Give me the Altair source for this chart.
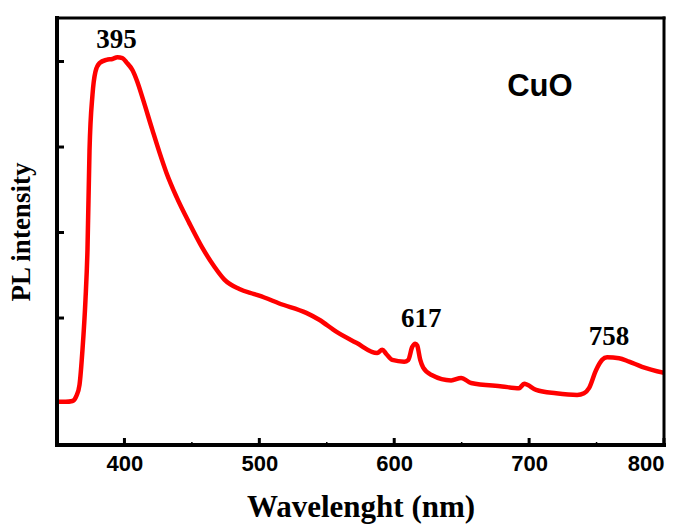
import altair as alt
import pandas as pd

# Spectrum (wavelength nm, relative PL intensity)
wavelength = [350, 356.3, 361.5, 364.4, 366.7, 368.9, 371.1, 372.6, 374.1, 376.3, 378.5, 381.5,
              386.7, 391.1, 394.8, 398.5, 401.5, 405.9, 409.6, 413.3, 420.7, 425.9, 431.1, 438.5,
              448.1, 457.8, 466.7, 474.1, 485.2, 496.3, 503.7, 514.8, 534.8, 544.4, 557.0, 571.9,
              587.4, 591.1, 594.1, 598.5, 607.4, 610.4, 613.3, 615.6, 617.0, 619.3, 621.5, 628.1,
              642.2, 649.6, 657.0, 680.0, 692.6, 696.3, 705.2, 720.0, 735.6, 740.7, 744.4, 749.6,
              754.1, 757.8, 766.7, 774.1, 783.7, 800]
intensity = [0.02, 0.02, 0.03, 0.09, 0.22, 0.63, 1.21, 1.80, 2.96, 3.61, 3.88, 3.98,
             4.02, 4.03, 4.05, 4.04, 3.99, 3.90, 3.76, 3.58, 3.20, 2.94, 2.70, 2.42,
             2.11, 1.82, 1.60, 1.45, 1.34, 1.28, 1.24, 1.17, 1.06, 0.98, 0.84, 0.71,
             0.59, 0.63, 0.58, 0.51, 0.49, 0.51, 0.66, 0.70, 0.68, 0.51, 0.42, 0.33,
             0.27, 0.30, 0.24, 0.20, 0.18, 0.23, 0.16, 0.12, 0.10, 0.12, 0.18, 0.39,
             0.51, 0.54, 0.53, 0.49, 0.43, 0.36]

x_major = [400, 500, 600, 700, 800]
x_minor = [450, 550, 650, 750]
y_major = [1, 2, 3, 4]

peak_text = ["395", "617", "758"]
peak_x = [394.1, 620.0, 759.3]
peak_y = [4.25, 0.99, 0.78]

sample_text = ["CuO"]
sample_x = [708.0]
sample_y = [3.70]

W, H = 607, 427
xs = alt.Scale(domain=[350, 800], nice=False, zero=False)
ys = alt.Scale(domain=[-0.485, 4.509], nice=False, zero=False)

df = pd.DataFrame({"wl": wavelength, "pl": intensity})

line = alt.Chart(df).mark_line(color="#ff0000", strokeWidth=4.5, interpolate="monotone", clip=True).encode(
    x=alt.X("wl:Q", scale=xs,
            axis=alt.Axis(title="Wavelenght (nm)", values=x_major, ticks=False, domain=False, grid=False,
                          labelFont="Liberation Sans", labelFontWeight="bold", labelFontSize=22,
                          labelColor="black", labelPadding=8,
                          titleFont="Liberation Serif", titleFontWeight="bold", titleFontSize=31,
                          titleColor="black", titlePadding=18)),
    y=alt.Y("pl:Q", scale=ys,
            axis=alt.Axis(title="PL intensity", labels=False, ticks=False, domain=False, grid=False,
                          titleFont="Liberation Serif", titleFontWeight="bold", titleFontSize=27,
                          titleColor="black", titlePadding=22)),
)

xmaj = alt.Chart(pd.DataFrame({"t": x_major})).mark_rule(color="black", strokeWidth=3).encode(
    x=alt.X("t:Q", scale=xs), y=alt.value(H), y2=alt.value(H - 7))
xmin = alt.Chart(pd.DataFrame({"t": x_minor})).mark_rule(color="black", strokeWidth=1.5).encode(
    x=alt.X("t:Q", scale=xs), y=alt.value(H), y2=alt.value(H - 3))
ymaj = alt.Chart(pd.DataFrame({"t": y_major})).mark_rule(color="black", strokeWidth=3).encode(
    y=alt.Y("t:Q", scale=ys), x=alt.value(0), x2=alt.value(7))

# frame drawn as rules so it is solid black
frame = alt.Chart(pd.DataFrame({"k": [0]})).mark_rule(color="black", strokeWidth=4, strokeCap="square").encode(
    x=alt.value(0), x2=alt.value(W), y=alt.value(H), y2=alt.value(H))
frame_top = alt.Chart(pd.DataFrame({"k": [0]})).mark_rule(color="black", strokeWidth=3, strokeCap="square").encode(
    x=alt.value(0), x2=alt.value(W), y=alt.value(0), y2=alt.value(0))
frame_l = alt.Chart(pd.DataFrame({"k": [0]})).mark_rule(color="black", strokeWidth=4, strokeCap="square").encode(
    x=alt.value(0), x2=alt.value(0), y=alt.value(0), y2=alt.value(H))
frame_r = alt.Chart(pd.DataFrame({"k": [0]})).mark_rule(color="black", strokeWidth=3, strokeCap="square").encode(
    x=alt.value(W), x2=alt.value(W), y=alt.value(0), y2=alt.value(H))

peaks = alt.Chart(pd.DataFrame({"t": peak_text, "x": peak_x, "y": peak_y})).mark_text(
    font="Liberation Serif", fontWeight="bold", fontSize=27, color="black", baseline="middle", align="center"
).encode(x=alt.X("x:Q", scale=xs), y=alt.Y("y:Q", scale=ys), text="t:N")

sample = alt.Chart(pd.DataFrame({"t": sample_text, "x": sample_x, "y": sample_y})).mark_text(
    font="Liberation Sans", fontWeight="bold", fontSize=31, color="black", baseline="middle", align="center"
).encode(x=alt.X("x:Q", scale=xs), y=alt.Y("y:Q", scale=ys), text="t:N")

chart = alt.layer(line, xmaj, xmin, ymaj, frame, frame_top, frame_l, frame_r, peaks, sample).properties(
    width=W, height=H,
    background="white",
    autosize=alt.AutoSizeParams(type="none"),
    padding={"left": 57, "top": 18, "right": 23, "bottom": 80},
).configure_view(stroke=None)

chart.save("out.html", embed_options={"renderer": "svg", "actions": False})
